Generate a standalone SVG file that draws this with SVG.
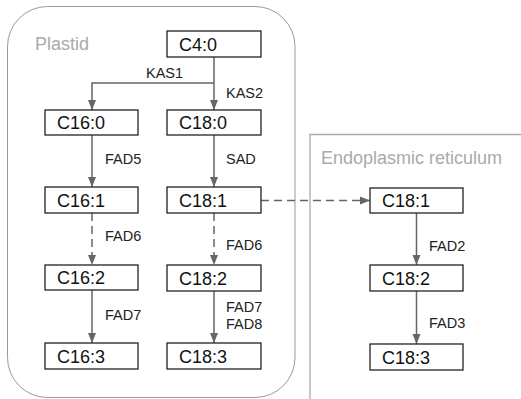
<svg xmlns="http://www.w3.org/2000/svg" width="521" height="399" viewBox="0 0 521 399">
<style>
.box{fill:#fff;stroke:#222;stroke-width:1.3}
.nt{font-family:"Liberation Sans",Arial,sans-serif;font-size:18px;fill:#111}
.lb{font-family:"Liberation Sans",Arial,sans-serif;font-size:14.5px;fill:#222}
.ct{font-family:"Liberation Sans",Arial,sans-serif;font-size:18px;fill:#aaa}
.ln{fill:none;stroke:#666;stroke-width:1.5}
.ds{stroke-dasharray:8 5}
</style>
<defs>
<marker id="ah" viewBox="0 0 10 10" refX="10" refY="5" markerWidth="10" markerHeight="10" markerUnits="userSpaceOnUse" orient="auto">
<path d="M0,1 L10,5 L0,9 Z" fill="#666"/>
</marker>
</defs>
<g id="plastid">
<rect x="7.5" y="6.5" width="287.5" height="391" rx="40" ry="40" fill="none" stroke="#999" stroke-width="1"/>
<text class="ct" x="35" y="50">Plastid</text>
</g>
<g id="er">
<path d="M310,399 L310,134.5 L521,134.5" fill="none" stroke="#aaa" stroke-width="1.3"/>
<text class="ct" x="321" y="164">Endoplasmic reticulum</text>
</g>
<g id="connectors">
<path class="ln" d="M214,57 L214,110" marker-end="url(#ah)"/>
<path class="ln" d="M214,83 L92,83 L92,110" marker-end="url(#ah)"/>
<path class="ln" d="M92,135 L92,187" marker-end="url(#ah)"/>
<path class="ln" d="M214,135 L214,187" marker-end="url(#ah)"/>
<path class="ln ds" d="M92,213 L92,265" marker-end="url(#ah)"/>
<path class="ln ds" d="M214,213 L214,265" marker-end="url(#ah)"/>
<path class="ln" d="M92,290 L92,343" marker-end="url(#ah)"/>
<path class="ln" d="M214,291 L214,343" marker-end="url(#ah)"/>
<path class="ln ds" d="M261,200.5 L370,200.5" marker-end="url(#ah)"/>
<path class="ln" d="M416.5,213 L416.5,265" marker-end="url(#ah)"/>
<path class="ln" d="M416.5,291 L416.5,344" marker-end="url(#ah)"/>
<text class="lb" x="146" y="78">KAS1</text>
<text class="lb" x="226" y="98">KAS2</text>
<text class="lb" x="105" y="164">FAD5</text>
<text class="lb" x="226" y="164">SAD</text>
<text class="lb" x="105" y="241">FAD6</text>
<text class="lb" x="226" y="250">FAD6</text>
<text class="lb" x="105" y="320">FAD7</text>
<text class="lb" x="226" y="312">FAD7</text>
<text class="lb" x="226" y="329">FAD8</text>
<text class="lb" x="429" y="251">FAD2</text>
<text class="lb" x="429" y="328">FAD3</text>
</g>
<g id="c4_0"><rect class="box" x="167" y="31" width="94" height="26"/><text class="nt" x="179" y="50.5">C4:0</text></g>
<g id="c16_0"><rect class="box" x="45" y="110" width="93" height="25"/><text class="nt" x="57" y="129">C16:0</text></g>
<g id="c18_0"><rect class="box" x="167" y="110" width="94" height="25"/><text class="nt" x="179" y="129">C18:0</text></g>
<g id="c16_1"><rect class="box" x="45" y="187" width="93" height="26"/><text class="nt" x="57" y="206.5">C16:1</text></g>
<g id="c18_1"><rect class="box" x="167" y="187" width="94" height="26"/><text class="nt" x="179" y="206.5">C18:1</text></g>
<g id="c16_2"><rect class="box" x="45" y="265" width="93" height="25"/><text class="nt" x="57" y="284">C16:2</text></g>
<g id="c18_2"><rect class="box" x="167" y="265" width="94" height="26"/><text class="nt" x="179" y="284.5">C18:2</text></g>
<g id="c16_3"><rect class="box" x="45" y="343" width="93" height="26"/><text class="nt" x="57" y="362.5">C16:3</text></g>
<g id="c18_3"><rect class="box" x="167" y="343" width="94" height="26"/><text class="nt" x="179" y="362.5">C18:3</text></g>
<g id="er_c18_1"><rect class="box" x="370" y="188" width="93" height="25"/><text class="nt" x="382" y="207">C18:1</text></g>
<g id="er_c18_2"><rect class="box" x="370" y="265" width="93" height="26"/><text class="nt" x="382" y="284.5">C18:2</text></g>
<g id="er_c18_3"><rect class="box" x="370" y="344" width="93" height="26"/><text class="nt" x="382" y="363.5">C18:3</text></g>
</svg>
